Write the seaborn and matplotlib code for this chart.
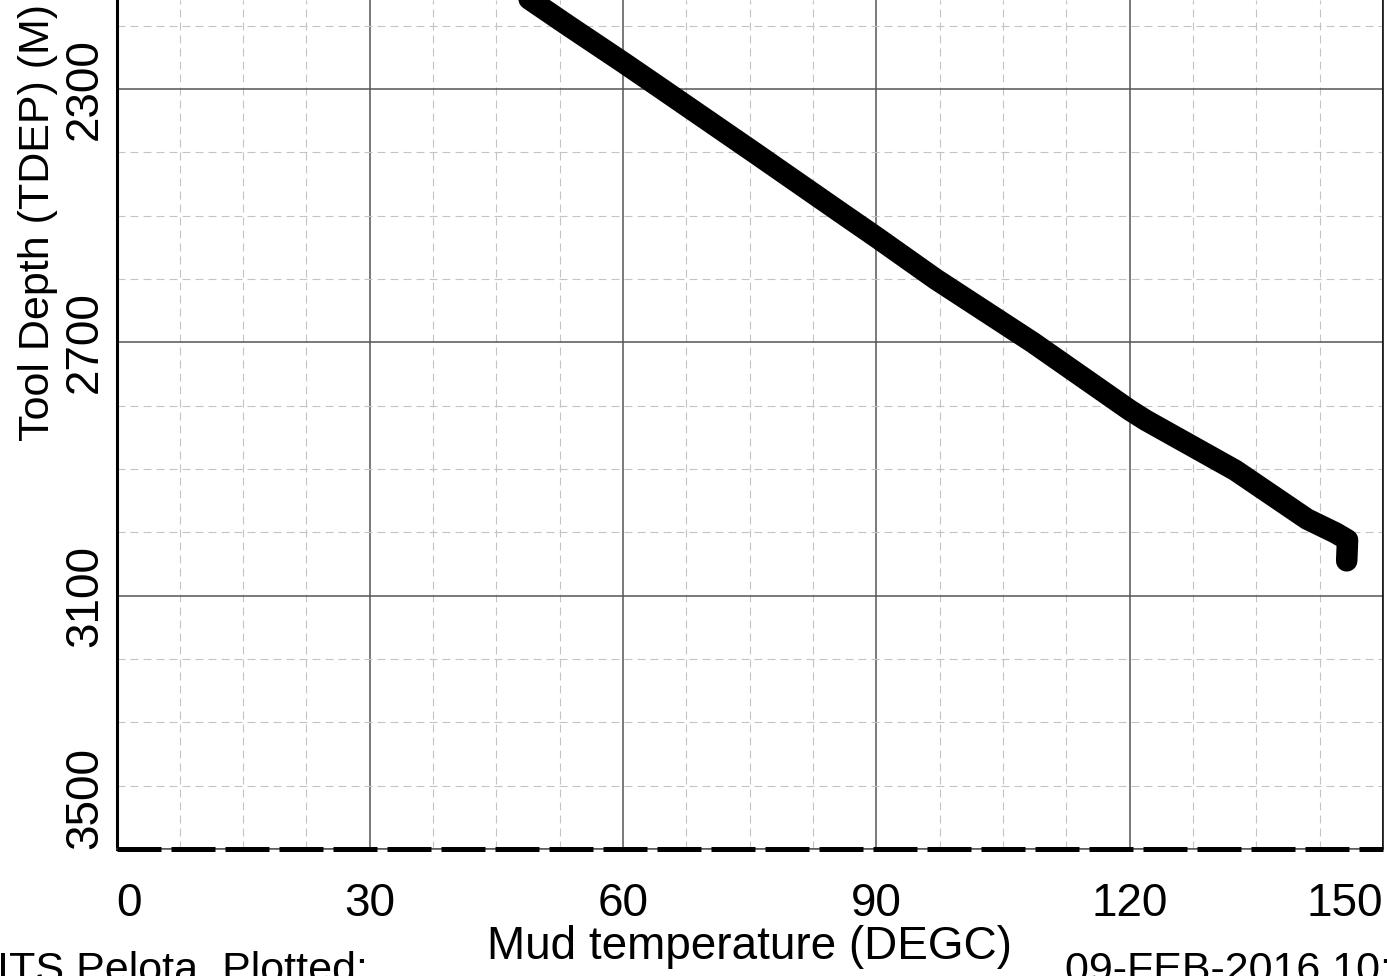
import numpy as np
import pandas as pd
import matplotlib
matplotlib.use("Agg")
import matplotlib.pyplot as plt
import seaborn as sns
from matplotlib.ticker import MultipleLocator, FixedLocator

# ---- data ----
depth_m = [2150, 2200, 2258, 2300, 2400, 2500, 2534, 2600, 2700, 2807, 2823,
           2902, 2979, 3001, 3012, 3045]
mud_temp = [48.0, 53.5, 60.0, 64.6, 75.5, 86.3, 90.0, 97.0, 108.5, 120.0, 121.9,
            132.5, 141.0, 144.4, 145.8, 145.7]
x_ticks = [0, 30, 60, 90, 120, 150]
y_ticks = [2300, 2700, 3100, 3500]
bottom_line_depth = 3500
x_label = "Mud temperature (DEGC)"
y_label = "Tool Depth (TDEP) (M)"
footer_left = "ITS Pelota  Plotted:"
footer_right = "09-FEB-2016 10:40"

df = pd.DataFrame({"temp": mud_temp, "depth": depth_m})

sns.set_style("white")
plt.rcParams["font.family"] = ["Liberation Sans", "DejaVu Sans"]
plt.rcParams["text.color"] = "black"
plt.rcParams["axes.labelcolor"] = "black"

FS = 33
W, H = 1387, 976
fig = plt.figure(figsize=(W / 100, H / 100), dpi=100)
ax = fig.add_axes([116.5 / W, 1 - 849 / H, (1383 - 116.5) / W, 849 / H])

# grid
ax.set_axisbelow(True)
ax.xaxis.set_major_locator(FixedLocator(x_ticks))
ax.xaxis.set_minor_locator(MultipleLocator(7.5))
ax.yaxis.set_major_locator(FixedLocator(y_ticks))
ax.yaxis.set_minor_locator(MultipleLocator(100))
ax.grid(which="major", color="#555555", lw=1.1, ls="-")
ax.grid(which="minor", color="#c4c4c4", lw=0.8, ls=(0, (7.2, 4.5)))

sns.lineplot(data=df, x="temp", y="depth", sort=False, estimator=None, ax=ax,
             color="black", lw=15.5, solid_capstyle="round", solid_joinstyle="round")

ax.axhline(bottom_line_depth, color="black", lw=3.6, ls=(0, (8.8, 2.0)), clip_on=False, zorder=5)

ax.set_xlim(0, 150)
ax.set_ylim(3500, 2159.5)

# spines
ax.spines["top"].set_visible(False)
ax.spines["left"].set_color("black")
ax.spines["left"].set_linewidth(2.2)
ax.spines["bottom"].set_color("#555555")
ax.spines["bottom"].set_linewidth(1.1)
ax.spines["right"].set_color("black")
ax.spines["right"].set_linewidth(1.1)

# ticks
ax.tick_params(axis="x", which="major", direction="inout", length=18, width=1.1,
               color="#444444", labelcolor="black", labelsize=FS, pad=15)
ax.tick_params(axis="x", which="minor", direction="inout", length=9.4, width=1.0,
               color="#666666")
ax.tick_params(axis="y", which="both", direction="out", length=11.5, width=1.1,
               color="#444444", labelcolor="black", labelsize=FS, pad=-4.5)
ax.set_xticklabels([str(t) for t in x_ticks])
ax.set_yticklabels([str(t) for t in y_ticks], rotation=90, va="center")
xl = ax.get_xticklabels()
xl[0].set_ha("left")
xl[-1].set_ha("right")
yl = ax.get_yticklabels()
yl[-1].set_va("bottom")

ax.set_xlabel(x_label, fontsize=FS, labelpad=-1)
ax.set_ylabel(y_label, fontsize=31)
ax.yaxis.set_label_coords(-0.0462, 0.7385)

fig.text(-0.002, 1 - 951 / H, footer_left, fontsize=31, va="top", ha="left")
fig.text(1065 / W, 1 - 951 / H, footer_right, fontsize=31, va="top", ha="left")

fig.savefig("out.png", dpi=100)
